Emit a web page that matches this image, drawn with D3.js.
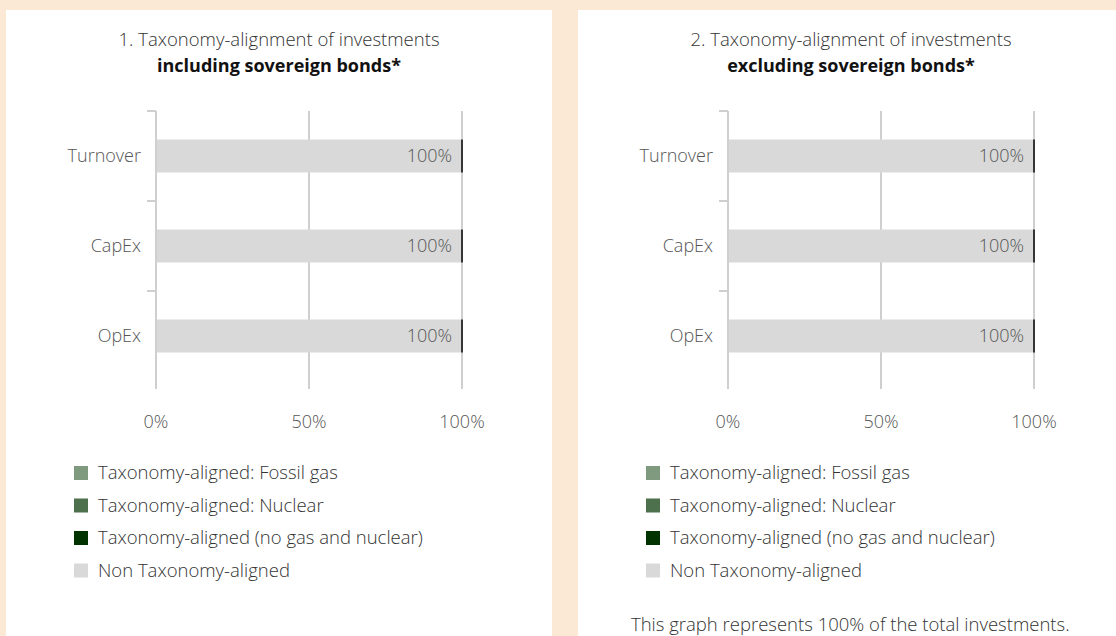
<!DOCTYPE html>
<html>
<head>
<meta charset="utf-8">
<script src="https://cdn.jsdelivr.net/npm/d3@7"></script>
<style>
  html, body { margin: 0; padding: 0; background: #fbe8d5; }
  svg { display: block; font-family: "Open Sans", Roboto, "Liberation Sans", sans-serif; }
</style>
</head>
<body>
<div id="chart"></div>
<script>
let width = 1116
  , height = 636;

// data
let categories = ['Turnover', 'CapEx', 'OpEx'];
let seriesNames = [
  'Taxonomy-aligned: Fossil gas',
  'Taxonomy-aligned: Nuclear',
  'Taxonomy-aligned (no gas and nuclear)',
  'Non Taxonomy-aligned'
];
let seriesColors = ['#809a80', '#4d704d', '#003300', '#d9d9d9'];

// chart 1 - including sovereign bonds
let incFossilGas = [0, 0, 0];
let incNuclear = [0, 0, 0];
let incAligned = [0, 0, 0];
let incNonAligned = [100, 100, 100];

// chart 2 - excluding sovereign bonds
let excFossilGas = [0, 0, 0];
let excNuclear = [0, 0, 0];
let excAligned = [0, 0, 0];
let excNonAligned = [100, 100, 100];

let xTicks = [0, 50, 100];

let svg = d3.select('#chart').append('svg')
  .attr('width', width).attr('height', height);

svg.append('rect').attr('width', width).attr('height', height).attr('fill', '#fbe8d5');

function drawPanel(left, panelW, title, subtitle, vals, footnote) {
  let g = svg.append('g').attr('transform', 'translate(' + left + ',0)');

  g.append('rect').attr('x', 0).attr('y', 10).attr('width', panelW).attr('height', height - 10)
    .attr('fill', '#fff');

  let cx = 273;
  g.append('text').attr('x', cx).attr('y', 46).attr('text-anchor', 'middle')
    .attr('font-size', 18.5).attr('font-weight', 300).attr('fill', '#333').text(title);
  g.append('text').attr('x', cx).attr('y', 72).attr('text-anchor', 'middle')
    .attr('font-size', 18).attr('font-weight', 700).attr('fill', '#111').text(subtitle);

  let x = d3.scaleLinear().domain([0, 100]).range([150, 456]);
  let y = d3.scaleBand().domain(categories).range([111, 381]);
  let barH = 33;
  let axisBottom = 389;

  // grid lines
  g.selectAll('line.grid').data(xTicks.slice(1)).enter().append('line')
    .attr('class', 'grid')
    .attr('x1', d => x(d)).attr('x2', d => x(d))
    .attr('y1', 111).attr('y2', axisBottom)
    .attr('stroke', '#cfcfcf').attr('stroke-width', 2);

  // stacked bars: non-aligned first, then aligned parts
  let rows = categories.map((c, i) => ({
    cat: c,
    parts: [vals.non[i], vals.fossil[i], vals.nuclear[i], vals.aligned[i]]
  }));
  let partColors = [seriesColors[3], seriesColors[0], seriesColors[1], seriesColors[2]];

  rows.forEach(r => {
    let acc = 0;
    r.parts.forEach((v, j) => {
      if (v > 0) {
        g.append('rect')
          .attr('x', x(acc)).attr('y', y(r.cat) + (y.bandwidth() - barH) / 2)
          .attr('width', x(acc + v) - x(acc)).attr('height', barH)
          .attr('fill', partColors[j]);
      }
      acc += v;
    });
    // end marker
    g.append('line')
      .attr('x1', x(acc)).attr('x2', x(acc))
      .attr('y1', y(r.cat) + (y.bandwidth() - barH) / 2)
      .attr('y2', y(r.cat) + (y.bandwidth() + barH) / 2)
      .attr('stroke', '#000').attr('stroke-width', 1.5);
    g.append('text')
      .attr('x', x(r.parts[0]) - 10).attr('y', y(r.cat) + y.bandwidth() / 2)
      .attr('dy', '0.35em').attr('text-anchor', 'end')
      .attr('font-size', 18).attr('font-weight', 300).attr('fill', '#555')
      .text(r.parts[0] + '%');
  });

  // y axis
  g.append('line')
    .attr('x1', x(0)).attr('x2', x(0)).attr('y1', 111).attr('y2', axisBottom)
    .attr('stroke', '#cfcfcf').attr('stroke-width', 2);
  g.selectAll('line.ytick').data(categories).enter().append('line')
    .attr('class', 'ytick')
    .attr('x1', x(0) - 9).attr('x2', x(0))
    .attr('y1', d => y(d)).attr('y2', d => y(d))
    .attr('stroke', '#cfcfcf').attr('stroke-width', 2);
  g.selectAll('text.ylab').data(categories).enter().append('text')
    .attr('class', 'ylab')
    .attr('x', x(0) - 15).attr('y', d => y(d) + y.bandwidth() / 2)
    .attr('dy', '0.35em').attr('text-anchor', 'end')
    .attr('font-size', 18).attr('font-weight', 300).attr('fill', '#555')
    .text(d => d);

  // x tick labels
  g.selectAll('text.xlab').data(xTicks).enter().append('text')
    .attr('class', 'xlab')
    .attr('x', d => x(d)).attr('y', 422)
    .attr('dy', '0.35em').attr('text-anchor', 'middle')
    .attr('font-size', 18).attr('font-weight', 300).attr('fill', '#555')
    .text(d => d + '%');

  // legend
  let leg = g.selectAll('g.leg').data(seriesNames).enter().append('g')
    .attr('class', 'leg')
    .attr('transform', (d, i) => 'translate(68,' + (473 + i * 32.5) + ')');
  leg.append('rect').attr('x', 0).attr('y', -7).attr('width', 14).attr('height', 14)
    .attr('fill', (d, i) => seriesColors[i]);
  leg.append('text').attr('x', 24).attr('y', 0).attr('dy', '0.35em')
    .attr('font-size', 18.5).attr('font-weight', 300).attr('fill', '#333')
    .text(d => d);

  if (footnote) {
    g.append('text').attr('x', 53).attr('y', 631)
      .attr('font-size', 18.5).attr('font-weight', 300).attr('fill', '#333')
      .text(footnote);
  }
}

drawPanel(6, 546, '1. Taxonomy-alignment of investments', 'including sovereign bonds*',
  { fossil: incFossilGas, nuclear: incNuclear, aligned: incAligned, non: incNonAligned });
drawPanel(578, 538, '2. Taxonomy-alignment of investments', 'excluding sovereign bonds*',
  { fossil: excFossilGas, nuclear: excNuclear, aligned: excAligned, non: excNonAligned },
  'This graph represents 100% of the total investments.');
</script>
</body>
</html>
